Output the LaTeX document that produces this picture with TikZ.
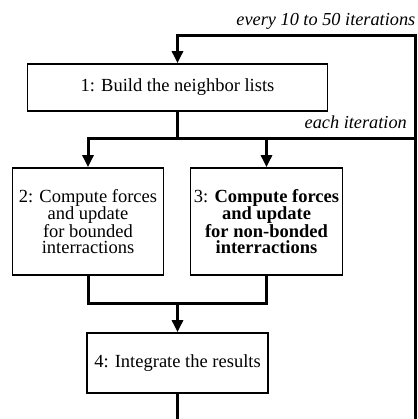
\documentclass[tikz,border=0pt]{standalone}
\usepackage{fontspec}
\setmainfont{Liberation Serif}
\usetikzlibrary{arrows.meta}

\begin{document}
\begin{tikzpicture}[x=1pt, y=-1pt, line join=miter,
  every node/.style={font=\fontsize{18.5}{16}\selectfont},
  stepbox/.style={draw, line width=1.8pt, align=center, inner sep=0pt},
  flow/.style={line width=3pt},
  flowarrow/.style={flow, -{Triangle[width=11pt,length=12pt]}},
  note/.style={font=\fontsize{18.3}{18}\selectfont\itshape, anchor=base east, inner sep=0pt}]
\useasboundingbox (0,0) rectangle (417,419);

% the four steps
\node[stepbox, minimum width=300pt, minimum height=47pt] (build) at (177.5,87.5) {1: Build the neighbor lists};
\node[stepbox, minimum width=151pt, minimum height=107pt] (bonded) at (88,221.5) {2: Compute forces\\and update\\for bounded\\interractions};
\node[stepbox, minimum width=152pt, minimum height=107pt] (nonbonded) at (266.5,221.5) {3: \textbf{Compute forces}\\\textbf{and update}\\\textbf{for non-bonded}\\\textbf{interractions}};
\node[stepbox, minimum width=181pt, minimum height=60pt] (integrate) at (177.5,363) {4: Integrate the results};

% loop labels
\node[note] (every) at (415.5,26) {every 10 to 50 iterations};
\node[note] (each) at (407,129) {each iteration};

\coordinate (rbot) at (415,419);
\coordinate (rtop) at (415,36);
\coordinate (rjoin) at (415,139);
\coordinate (split) at (177.5,139);
\coordinate (merge) at (177.5,303);
\coordinate (out) at (177.5,419);

% connectors
\draw[flowarrow] (rbot) -- (rtop) -| (build.north);
\draw[flow] (build.south) -- (split);
\draw[flowarrow] (rjoin) -| (bonded.north);
\draw[flowarrow] (split -| nonbonded.north) -- (nonbonded.north);
\draw[flow] (bonded.south) -- (bonded.south |- merge) -- (nonbonded.south |- merge) -- (nonbonded.south);
\draw[flowarrow] (merge) -- (integrate.north);
\draw[flow] (integrate.south) -- (out);
\end{tikzpicture}
\end{document}
